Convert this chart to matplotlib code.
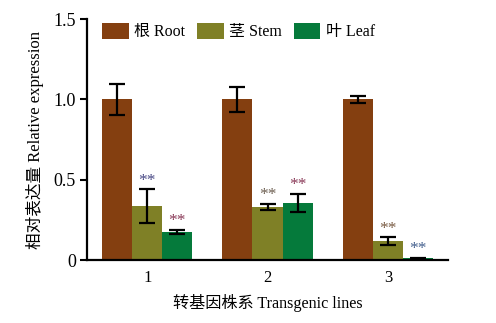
import numpy as np
import matplotlib
matplotlib.use("Agg")
import matplotlib.pyplot as plt

plt.rcParams['font.family'] = ['Liberation Serif', 'Noto Sans CJK SC']

lines = ['1', '2', '3']
tissues = ['根 Root', '茎 Stem', '叶 Leaf']
root_mean = [1.0, 1.0, 1.0]
root_err = [0.096, 0.077, 0.022]
stem_mean = [0.336, 0.330, 0.118]
stem_err = [0.103, 0.018, 0.023]
leaf_mean = [0.174, 0.355, 0.012]
leaf_err = [0.014, 0.057, 0.003]
# significance marks for stem and leaf
stem_sig = ['**', '**', '**']
leaf_sig = ['**', '**', '**']
stem_sig_colors = ['#4a4a86', '#6e6052', '#7a5c44']
leaf_sig_colors = ['#8a3a58', '#8a3a58', '#44608e']

colors = ['#843f10', '#7f8026', '#057a3b']

fig = plt.figure(figsize=(4.96, 3.23), dpi=100)
ax = fig.add_axes([0.1754, 0.195, 0.728, 0.746])

x = np.arange(1, len(lines) + 1)
w = 0.25
means = [root_mean, stem_mean, leaf_mean]
errs = [root_err, stem_err, leaf_err]
for i in range(3):
    ax.bar(x + (i - 1) * w, means[i], w, color=colors[i], label=tissues[i],
           zorder=2)
    ax.errorbar(x + (i - 1) * w, means[i], yerr=errs[i], fmt='none',
                ecolor='black', elinewidth=1.6, capsize=5.8, capthick=1.6,
                zorder=3)

for j in range(len(lines)):
    ax.text(x[j], stem_mean[j] + stem_err[j] + 0.055, stem_sig[j],
            ha='center', va='center', fontsize=12.5, color=stem_sig_colors[j])
    ax.text(x[j] + w, leaf_mean[j] + leaf_err[j] + 0.055, leaf_sig[j],
            ha='center', va='center', fontsize=12.5, color=leaf_sig_colors[j])

ax.set_xlim(0.5, 3.5)
ax.set_ylim(0, 1.5)
ax.set_yticks([0, 0.5, 1.0, 1.5])
ax.set_yticklabels(['0', '0.5', '1.0', '1.5'])
ax.set_xticks(x)
ax.set_xticklabels(lines)
ax.tick_params(axis='x', length=0, pad=7, labelsize=12)
ax.tick_params(axis='y', direction='out', length=5, width=1.5, pad=3,
               labelsize=13)
for s in ['top', 'right']:
    ax.spines[s].set_visible(False)
for s in ['left', 'bottom']:
    ax.spines[s].set_linewidth(1.6)

ax.set_ylabel('相对表达量 Relative expression', fontsize=12, labelpad=7)
ax.set_xlabel('转基因株系 Transgenic lines', fontsize=11.6, labelpad=6)

ax.legend(loc='upper left', bbox_to_anchor=(0.025, 1.012), ncol=3, frameon=False,
          fontsize=11.5, handlelength=1.65, handleheight=1.25, handletextpad=0.35,
          columnspacing=0.75, borderaxespad=0)

fig.savefig('out.png', dpi=100)
